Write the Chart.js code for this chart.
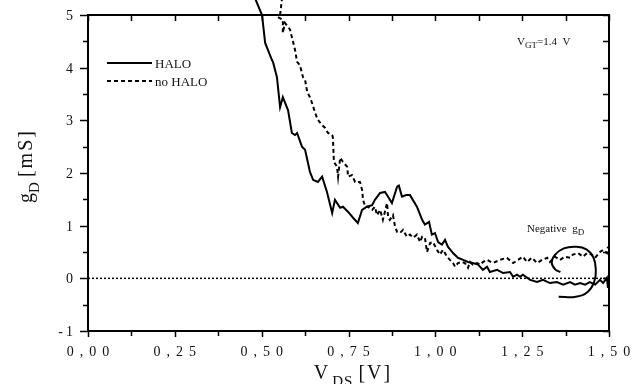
<!DOCTYPE html>
<html><head><meta charset="utf-8">
<script src="https://cdn.jsdelivr.net/npm/chart.js@4/dist/chart.umd.min.js"></script>
<style>html,body{margin:0;padding:0;background:#fff}#wrap{width:643px;height:384px;position:relative}</style>
</head><body><div id="wrap"><canvas id="c" width="643" height="384"></canvas></div>
<script>
// ---- data ----
const haloX = [0.477,0.501,0.510,0.530,0.533,0.544,0.553,0.561,0.576,0.587,0.596,0.602,0.616,0.625,0.639,0.648,0.662,0.674,0.688,0.703,0.711,0.726,0.734,0.749,0.763,0.777,0.789,0.803,0.818,0.826,0.841,0.855,0.864,0.875,0.890,0.895,0.904,0.916,0.927,0.947,0.962,0.970,0.982,0.990,0.999,1.008,1.019,1.028,1.036,1.051,1.065,1.080,1.094,1.108,1.123,1.137,1.149,1.157,1.178,1.195,1.215,1.224,1.235,1.244,1.252,1.273,1.293,1.310,1.330,1.350,1.368,1.388,1.402,1.417,1.431,1.445,1.460,1.474,1.483,1.494,1.497];
const haloY = [5.38,5.00,4.47,4.14,4.10,3.82,3.25,3.44,3.19,2.76,2.72,2.76,2.50,2.44,2.02,1.87,1.83,1.93,1.64,1.24,1.49,1.34,1.36,1.26,1.15,1.05,1.30,1.36,1.39,1.49,1.62,1.64,1.55,1.43,1.74,1.76,1.55,1.58,1.58,1.36,1.11,1.02,1.07,0.83,0.86,0.69,0.64,0.73,0.60,0.48,0.39,0.35,0.31,0.29,0.26,0.16,0.22,0.12,0.16,0.10,0.12,0.03,0.07,0.03,0.07,-0.03,-0.07,-0.03,-0.09,-0.07,-0.12,-0.07,-0.12,-0.09,-0.12,-0.07,-0.12,-0.03,-0.09,0.01,-0.18];
const noHaloX = [0.559,0.553,0.547,0.561,0.561,0.567,0.582,0.587,0.596,0.602,0.610,0.619,0.625,0.631,0.639,0.645,0.654,0.662,0.674,0.682,0.691,0.703,0.705,0.708,0.717,0.720,0.726,0.734,0.746,0.749,0.760,0.769,0.783,0.789,0.792,0.798,0.806,0.818,0.826,0.832,0.841,0.849,0.861,0.864,0.869,0.878,0.884,0.890,0.898,0.907,0.918,0.927,0.936,0.947,0.956,0.962,0.970,0.976,0.985,0.993,1.005,1.013,1.022,1.034,1.042,1.051,1.057,1.065,1.077,1.085,1.094,1.100,1.108,1.120,1.129,1.137,1.149,1.166,1.186,1.206,1.224,1.238,1.252,1.264,1.278,1.293,1.307,1.322,1.330,1.345,1.359,1.373,1.388,1.396,1.411,1.425,1.437,1.451,1.460,1.474,1.483,1.494,1.497];
const noHaloY = [5.34,5.00,4.96,4.91,4.66,4.85,4.72,4.58,4.34,4.11,4.05,3.82,3.77,3.54,3.44,3.33,3.14,3.01,2.91,2.86,2.76,2.72,2.68,2.21,2.12,1.93,2.29,2.21,2.12,1.93,1.96,1.83,1.83,1.68,1.49,1.36,1.36,1.30,1.36,1.20,1.30,1.11,1.43,1.17,1.11,1.20,0.98,0.88,0.86,0.92,0.79,0.83,0.77,0.83,0.69,0.79,0.77,0.50,0.67,0.69,0.54,0.45,0.54,0.41,0.35,0.29,0.22,0.29,0.31,0.29,0.20,0.31,0.26,0.29,0.26,0.31,0.35,0.29,0.35,0.39,0.29,0.35,0.41,0.31,0.39,0.29,0.35,0.39,0.31,0.41,0.35,0.41,0.39,0.45,0.48,0.41,0.48,0.45,0.39,0.50,0.54,0.48,0.60];
const zeroX = [0, 1.5];
const zeroY = [0, 0];
const lassoX = [1.355,1.405,1.440,1.458,1.462,1.455,1.435,1.405,1.370,1.345,1.335,1.345,1.360];
const lassoY = [-0.35,-0.35,-0.25,-0.05,0.15,0.40,0.55,0.60,0.57,0.45,0.30,0.17,0.12];
const seriesNames = ['HALO', 'no HALO'];
const xTicks = [0, 0.25, 0.5, 0.75, 1.0, 1.25, 1.5];
const yTicks = [-1, 0, 1, 2, 3, 4, 5];

const pts = (xs, ys) => xs.map((x, i) => ({x, y: ys[i]}));
const SERIF = '"Liberation Serif", "Times New Roman", serif';

function spacedWidth(ctx, t, sp) {
  let w = 0; for (const ch of t) w += ctx.measureText(ch).width + sp; return w - sp;
}
function drawSpaced(ctx, t, x, y, sp) {
  for (const ch of t) { ctx.fillText(ch, x, y); x += ctx.measureText(ch).width + sp; }
  return x - sp;
}
// segments: [{t, size, dy, sp}]
function segWidth(ctx, segs) {
  let w = 0;
  segs.forEach((s, i) => { ctx.font = s.size + 'px ' + SERIF; w += spacedWidth(ctx, s.t, s.sp || 0) + (i < segs.length - 1 ? (s.gap || 0) : 0); });
  return w;
}
function drawSegs(ctx, segs, x, y, align) {
  let w = segWidth(ctx, segs);
  let cx = align === 'center' ? x - w / 2 : (align === 'right' ? x - w : x);
  ctx.textAlign = 'left'; ctx.textBaseline = 'alphabetic';
  segs.forEach(s => { ctx.font = s.size + 'px ' + SERIF; cx = drawSpaced(ctx, s.t, cx, y + (s.dy || 0), s.sp || 0) + (s.gap || 0); });
}

const framePlugin = {
  id: 'frame',
  afterDraw(chart) {
    const ctx = chart.ctx, a = chart.chartArea, xs = chart.scales.x, ys = chart.scales.y;
    ctx.save();
    ctx.strokeStyle = '#000'; ctx.fillStyle = '#000';
    ctx.lineWidth = 2;
    ctx.beginPath();
    ctx.rect(a.left, a.top, a.right - a.left, a.bottom - a.top);
    ctx.stroke();
    ctx.lineWidth = 1.5;
    ctx.beginPath();
    // left & right ticks
    for (let v = -1; v <= 5.001; v += 0.5) {
      const py = Math.round(ys.getPixelForValue(v)) + 0.5;
      const major = Math.abs(v - Math.round(v)) < 1e-6;
      ctx.moveTo(a.left, py); ctx.lineTo(a.left - (major ? 8 : 5), py);
      ctx.moveTo(a.right, py); ctx.lineTo(a.right - 6, py);
    }
    // bottom & top ticks
    for (let v = 0; v <= 1.5001; v += 0.125) {
      const px = Math.round(xs.getPixelForValue(v)) + 0.5;
      const major = Math.abs(v / 0.25 - Math.round(v / 0.25)) < 1e-6;
      ctx.moveTo(px, a.bottom); ctx.lineTo(px, a.bottom + (major ? 6 : 5));
      ctx.moveTo(px, a.top); ctx.lineTo(px, a.top + 6);
    }
    ctx.stroke();
    // tick labels
    ctx.fillStyle = '#111';
    yTicks.forEach(v => {
      const py = ys.getPixelForValue(v);
      drawSegs(ctx, [{t: String(v), size: 14, sp: 3}], 73, py + 5, 'right');
    });
    xTicks.forEach(v => {
      const px = xs.getPixelForValue(v);
      drawSegs(ctx, [{t: v.toFixed(2).replace('.', ','), size: 14, sp: 6}], px, 356, 'center');
    });
    // axis titles
    drawSegs(ctx, [{t: 'V', size: 20, gap: 4}, {t: 'DS', size: 15, dy: 7, sp: 1, gap: 6}, {t: '[V]', size: 20, sp: 2}], 352, 379, 'center');
    ctx.save();
    ctx.translate(32, 167); ctx.rotate(-Math.PI / 2);
    drawSegs(ctx, [{t: 'g', size: 20}, {t: 'D', size: 15, dy: 7, gap: 5}, {t: '[mS]', size: 20, sp: 2}], 0, 0, 'center');
    ctx.restore();
    // legend
    ctx.lineWidth = 2; ctx.strokeStyle = '#000';
    ctx.beginPath(); ctx.moveTo(107, 63); ctx.lineTo(152, 63); ctx.stroke();
    ctx.setLineDash([4, 3]);
    ctx.beginPath(); ctx.moveTo(107, 81); ctx.lineTo(152, 81); ctx.stroke();
    ctx.setLineDash([]);
    drawSegs(ctx, [{t: seriesNames[0], size: 13}], 155, 68, 'left');
    drawSegs(ctx, [{t: seriesNames[1], size: 13}], 155, 86, 'left');
    // annotations
    drawSegs(ctx, [{t: 'V', size: 11}, {t: 'GT', size: 9, dy: 3}, {t: '=1.4  V', size: 11}], 517, 45, 'left');
    drawSegs(ctx, [{t: 'Negative  g', size: 11, gap: 0}, {t: 'D', size: 9, dy: 3}], 527, 232, 'left');
    ctx.restore();
  }
};

new Chart(document.getElementById('c'), {
  type: 'line',
  data: {
    datasets: [
      {label: seriesNames[0], data: pts(haloX, haloY), borderColor: '#000', borderWidth: 2, pointRadius: 0, tension: 0, clip: {left: 0, top: 20, right: 2, bottom: 0}},
      {label: seriesNames[1], data: pts(noHaloX, noHaloY), borderColor: '#000', borderWidth: 2, borderDash: [4, 3], pointRadius: 0, tension: 0, clip: {left: 0, top: 20, right: 2, bottom: 0}},
      {label: 'zero', data: pts(zeroX, zeroY), borderColor: '#000', borderWidth: 1.5, borderDash: [2, 2], pointRadius: 0},
      {label: 'negative', data: pts(lassoX, lassoY), borderColor: '#000', borderWidth: 2, pointRadius: 0, tension: 0.45, clip: 10}
    ]
  },
  plugins: [framePlugin],
  options: {
    responsive: false, animation: false, parsing: true,
    layout: {padding: {left: 88, top: 15, right: 34, bottom: 53}},
    plugins: {legend: {display: false}, tooltip: {enabled: false}, title: {display: false}},
    scales: {
      x: {type: 'linear', min: 0, max: 1.5, display: false},
      y: {type: 'linear', min: -1, max: 5, display: false}
    }
  }
});
</script></body></html>
